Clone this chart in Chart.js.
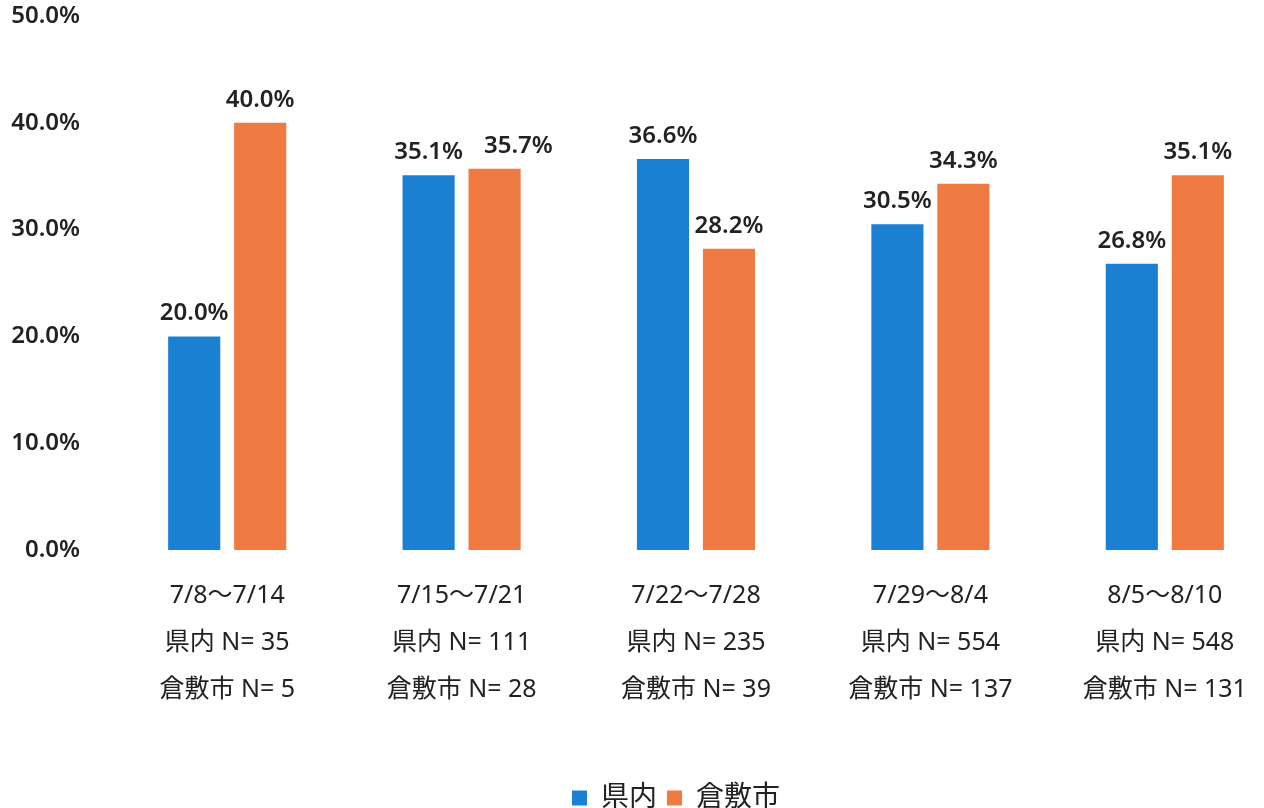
<!DOCTYPE html>
<html>
<head>
<meta charset="utf-8">
<script src="https://cdn.jsdelivr.net/npm/chart.js@4"></script>
<style>
  html, body { margin: 0; padding: 0; background: #fff; overflow: hidden; }
  #wrap { position: relative; width: 1352px; height: 808px; }
</style>
</head>
<body>
<div id="wrap"><canvas id="chart" width="1352" height="808"></canvas></div>
<script>
// データ
const weeks = ["7/8〜7/14", "7/15〜7/21", "7/22〜7/28", "7/29〜8/4", "8/5〜8/10"];
const kennaiN = [35, 111, 235, 554, 548];
const kurashikiN = [5, 28, 39, 137, 131];
const kennai = [20.0, 35.1, 36.6, 30.5, 26.8];
const kurashiki = [40.0, 35.7, 28.2, 34.3, 35.1];
const yTicks = [0, 10, 20, 30, 40, 50];

const labels = weeks.map((w, i) => [w, "県内 N= " + kennaiN[i], "倉敷市 N= " + kurashikiN[i]]);

const FONT = "'Noto Sans', 'Noto Sans CJK JP', sans-serif";

// 棒の上に値を表示（重なる場合は右のラベルを右へ逃がす）
const valueLabels = {
    id: "valueLabels",
    afterDatasetsDraw(chart) {
        const ctx = chart.ctx;
        ctx.save();
        ctx.font = "600 24px " + FONT;
        ctx.fillStyle = "#222";
        ctx.textAlign = "center";
        ctx.textBaseline = "alphabetic";
        const metaA = chart.getDatasetMeta(0);
        const metaB = chart.getDatasetMeta(1);
        chart.data.labels.forEach((_, i) => {
            const items = [
                { bar: metaA.data[i], text: kennai[i].toFixed(1) + "%" },
                { bar: metaB.data[i], text: kurashiki[i].toFixed(1) + "%" }
            ];
            let prevRight = null, prevY = null;
            items.forEach(it => {
                const w = ctx.measureText(it.text).width;
                let x = it.bar.x;
                const y = it.bar.y - 16;
                if (prevRight !== null && Math.abs(y - prevY) < 22 && x - w / 2 < prevRight + 4) {
                    x = prevRight + 21 + w / 2;
                }
                ctx.fillText(it.text, x, y);
                prevRight = x + w / 2;
                prevY = y;
            });
        });
        ctx.restore();
    }
};

// 凡例を少し右へずらす
const shiftLegend = {
    id: "shiftLegend",
    afterLayout(chart) {
        const lg = chart.legend;
        if (!lg) return;
        lg.left += 35;
        lg.right += 35;
    }
};

new Chart(document.getElementById("chart"), {
    type: "bar",
    data: {
        labels: labels,
        datasets: [
            { label: "県内", data: kennai, backgroundColor: "#1B7FD2" },
            { label: "倉敷市", data: kurashiki, backgroundColor: "#EF7A42" }
        ]
    },
    options: {
        responsive: false,
        animation: false,
        devicePixelRatio: 1,
        categoryPercentage: 0.563,
        barPercentage: 0.79,
        layout: { padding: { top: 16, right: 70, left: 0, bottom: -14 } },
        plugins: {
            tooltip: { enabled: false },
            legend: {
                position: "bottom",
                labels: {
                    font: { family: FONT, size: 28 },
                    color: "#222",
                    boxWidth: 15,
                    boxHeight: 15,
                    padding: 10
                }
            }
        },
        scales: {
            x: {
                grid: { display: false, drawTicks: false },
                border: { display: false },
                ticks: {
                    font: { family: FONT, size: 25, lineHeight: 1.88 },
                    color: "#222",
                    padding: 22,
                    maxRotation: 0,
                    autoSkip: false
                },
                afterFit(scale) { scale.height = 224; }
            },
            y: {
                min: 0,
                max: 50,
                grid: { display: false, drawTicks: false },
                border: { display: false },
                afterBuildTicks(scale) { scale.ticks = yTicks.map(v => ({ value: v })); },
                ticks: {
                    font: { family: FONT, size: 24, weight: "600" },
                    color: "#222",
                    padding: 30,
                    callback: v => v.toFixed(1) + "%"
                },
                afterFit(scale) {
                    scale.width = 110;
                    scale.paddingTop = 0;
                    scale.paddingBottom = 0;
                }
            }
        }
    },
    plugins: [valueLabels, shiftLegend]
});
</script>
</body>
</html>
